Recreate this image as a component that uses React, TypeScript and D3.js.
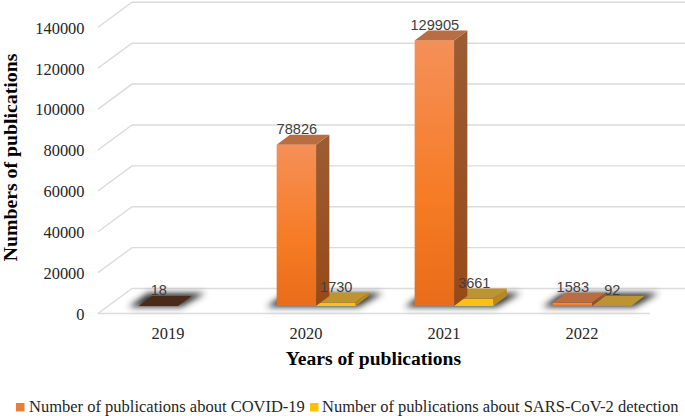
import React from "react";
import * as d3 from "d3";

const years = ["2019", "2020", "2021", "2022"];
const covidValues = [18, 78826, 129905, 1583];
const detectionValues: (number | null)[] = [null, 1730, 3661, 92];
const yTicks = [0, 20000, 40000, 60000, 80000, 100000, 120000, 140000];
const legendLabels = [
  "Number of publications about COVID-19",
  "Number of publications about SARS-CoV-2 detection",
];

const width = 685;
const height = 416;
const serif = "'Liberation Serif', serif";
const sans = "'Liberation Sans', sans-serif";

// oblique projection of the excel style 3d box
const wallDx = 34;
const wallDy = -25;
const barDx = 13.3;
const barDy = -10;
const planeDx = (wallDx - barDx) / 2;
const planeDy = (wallDy - barDy) / 2;

const x = d3.scaleBand().domain(years).range([98, 650]);
const y = d3.scaleLinear().domain([0, 140000]).range([313.5, 27.3]);
const barW = 39.4;

const colors = {
  covid: { front: "url(#covidFront)", side: "url(#covidSide)", top: "#b96d42", flat: "#4a2a18" },
  detection: { front: "#fcc015", side: "#b8881f", top: "#bd9432", flat: "#bd9432" },
};

function pts(p: number[][]) {
  return p.map((d) => d.join(",")).join(" ");
}

function Bar({ x0, value, c }: { x0: number; value: number; c: typeof colors.covid }) {
  const left = x0 + planeDx;
  const right = left + barW;
  const base = y(0) + planeDy;
  const top = y(value) + planeDy;
  const tiny = value < 50;
  return (
    <g>
      <polygon
        points={pts([[right, base], [right + barDx, base + barDy], [right + barDx, top + barDy], [right, top]])}
        fill={c.side}
      />
      <rect x={left} y={top} width={barW} height={base - top} fill={c.front} />
      <polygon
        points={pts([[left, top], [left + barDx, top + barDy], [right + barDx, top + barDy], [right, top]])}
        fill={tiny ? c.flat : c.top}
      />
    </g>
  );
}

export default function App() {
  const bw = x.bandwidth();
  const groupStart = (year: string) => x(year)! + (bw - 2 * barW) / 2 + 0.7;

  return (
    <svg
      width={width}
      height={height}
      style={{ position: "absolute", left: 0, top: 0, background: "#fff" }}
    >
      <defs>
        <linearGradient id="covidFront" x1="0" y1="0" x2="0" y2="1">
          <stop offset="0" stopColor="#f59058" />
          <stop offset="0.6" stopColor="#f67b24" />
          <stop offset="1" stopColor="#e96c1a" />
        </linearGradient>
        <linearGradient id="covidSide" x1="0" y1="0" x2="0" y2="1">
          <stop offset="0" stopColor="#9c5c34" />
          <stop offset="1" stopColor="#974a18" />
        </linearGradient>
        <filter id="soft" x="-30%" y="-100%" width="160%" height="300%">
          <feGaussianBlur stdDeviation="3" />
        </filter>
      </defs>

      {/* walls and grid */}
      {yTicks.map((t) => (
        <polyline
          key={t}
          points={pts([[98, y(t)], [98 + wallDx, y(t) + wallDy], [width, y(t) + wallDy]])}
          fill="none"
          stroke="#dcdcdc"
          strokeWidth={1.4}
        />
      ))}
      <line x1={98} x2={650} y1={y(0)} y2={y(0)} stroke="#dcdcdc" strokeWidth={1.4} />

      {/* shadows on the floor, only under series that have a value */}
      {years.map((yr, i) => {
        const l = groupStart(yr) + planeDx;
        const b = y(0) + planeDy;
        const r = l + (detectionValues[i] === null ? barW : 2 * barW);
        return (
          <polygon
            key={yr}
            points={pts([[l - 10, b + 1], [r + 3, b + 1], [r + barDx + 14, b + barDy - 3], [l + barDx - 4, b + barDy - 3]])}
            fill="#333333"
            filter="url(#soft)"
          />
        );
      })}

      {/* bars */}
      {years.map((yr, i) => {
        const det = detectionValues[i];
        return (
          <g key={yr}>
            {det !== null && <Bar x0={groupStart(yr) + barW} value={det} c={colors.detection} />}
            <Bar x0={groupStart(yr)} value={covidValues[i]} c={colors.covid} />
          </g>
        );
      })}

      {/* data labels */}
      {years.map((yr, i) => {
        const labels = [
          { v: covidValues[i], off: 0 },
          { v: detectionValues[i], off: barW },
        ];
        return labels.map(
          (l) =>
            l.v !== null && (
              <text
                key={yr + l.off}
                x={groupStart(yr) + l.off + planeDx + barW / 2 + 0.5}
                y={y(l.v) + planeDy + barDy - 0.5}
                textAnchor="middle"
                fontFamily={sans}
                fontSize={14.6}
                fill="#404040"
              >
                {l.v}
              </text>
            ),
        );
      })}

      {/* axes text */}
      {yTicks.map((t) => (
        <text key={t} x={84.5} y={y(t) + 6.4} textAnchor="end" fontFamily={serif} fontSize={16.4} fill="#262626">
          {t}
        </text>
      ))}
      {years.map((yr) => (
        <text key={yr} x={x(yr)! + bw / 2 + 1} y={339} textAnchor="middle" fontFamily={serif} fontSize={16.4} fill="#262626">
          {yr}
        </text>
      ))}
      <text
        transform="translate(17,157.5) rotate(-90)"
        textAnchor="middle"
        fontFamily={serif}
        fontWeight="bold"
        fontSize={19.8}
        fill="#000"
      >
        Numbers of publications
      </text>
      <text x={373.5} y={365} textAnchor="middle" fontFamily={serif} fontWeight="bold" fontSize={19.6} fill="#000">
        Years of publications
      </text>

      {/* legend */}
      <rect x={16} y={403} width={8.5} height={8.5} fill="#ed7d31" />
      <text x={29} y={412} fontFamily={serif} fontSize={16.5} fill="#262626">
        {legendLabels[0]}
      </text>
      <rect x={310} y={403} width={8.5} height={8.5} fill="#ffc000" />
      <text x={322} y={412} fontFamily={serif} fontSize={16.5} fill="#262626">
        {legendLabels[1]}
      </text>
    </svg>
  );
}
